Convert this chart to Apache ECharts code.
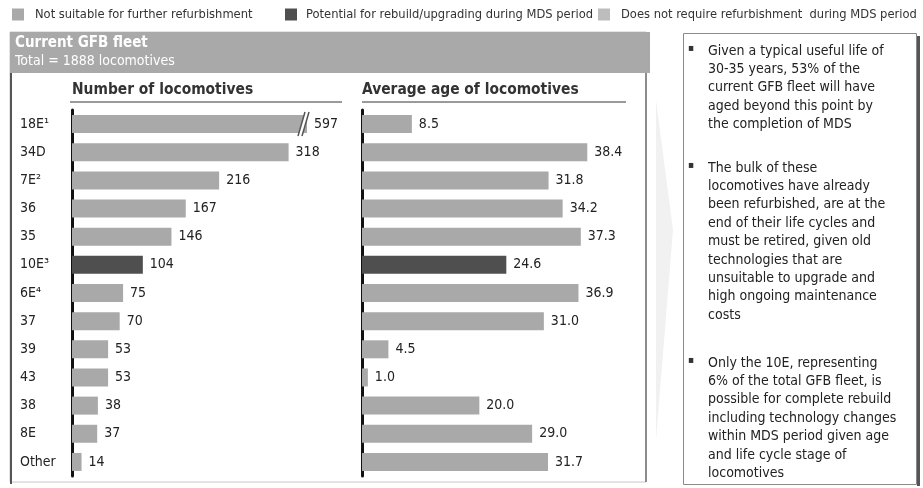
<!DOCTYPE html>
<html>
<head>
<meta charset="utf-8">
<script src="https://cdn.jsdelivr.net/npm/echarts@6/dist/echarts.min.js"></script>
<style>
  html, body { margin: 0; padding: 0; background: #ffffff; }
  #chart { width: 923px; height: 488px; }
</style>
</head>
<body>
<div id="chart"></div>
<script>
// Locomotive classes of the current GFB fleet
const categories = ['18E\u00B9', '34D', '7E\u00B2', '36', '35', '10E\u00B3', '6E\u2074', '37', '39', '43', '38', '8E', 'Other'];
// Number of locomotives per class
const fleetCount = [597, 318, 216, 167, 146, 104, 75, 70, 53, 53, 38, 37, 14];
// Average age of locomotives per class (years)
const averageAge = [8.5, 38.4, 31.8, 34.2, 37.3, 24.6, 36.9, 31.0, 4.5, 1.0, 20.0, 29.0, 31.7];
// Refurbishment status per class
const fleetStatus = ['retire', 'retire', 'retire', 'retire', 'retire', 'rebuild', 'retire', 'retire', 'retire', 'retire', 'retire', 'retire', 'retire'];
const statusOrder = ['retire', 'rebuild', 'keep'];
const statusNames = {
  retire: 'Not suitable for further refurbishment',
  rebuild: 'Potential for rebuild/upgrading during MDS period',
  keep: 'Does not require refurbishment  during MDS period'
};
const fleetTotal = fleetCount.reduce((a, b) => a + b, 0);

// Commentary next to the chart
const notes = [
  ['Given a typical useful life of', '30-35 years, 53% of the', 'current GFB fleet will have', 'aged beyond this point by', 'the completion of MDS'],
  ['The bulk of these', 'locomotives have already', 'been refurbished, are at the', 'end of their life cycles and', 'must be retired, given old', 'technologies that are', 'unsuitable to upgrade and', 'high ongoing maintenance', 'costs'],
  ['Only the 10E, representing', '6% of the total GFB fleet, is', 'possible for complete rebuild', 'including technology changes', 'within MDS period given age', 'and life cycle stage of', 'locomotives']
];

const FONT = '"DejaVu Sans Condensed", "DejaVu Sans", sans-serif';
const statusColors = { retire: '#a9a9a9', rebuild: '#4f4f4f', keep: '#bdbdbd' };
const COUNT_MAX = 345;   // count axis is cut; the 18E bar is drawn broken
const AGE_MAX = 45;

const chart = echarts.init(document.getElementById('chart'), null, { renderer: 'canvas' });

function barSeries(values, axis, status, fmt) {
  return {
    type: 'bar',
    name: statusNames[status],
    xAxisIndex: axis,
    yAxisIndex: axis,
    data: values.map((v, i) => (fleetStatus[i] === status ? v : '-')),
    barWidth: 18,
    barGap: '-100%',
    itemStyle: { color: statusColors[status] },
    label: {
      show: true,
      position: 'right',
      distance: 7,
      formatter: p => fmt(p.value),
      fontFamily: FONT,
      fontSize: 14,
      color: '#222222'
    },
    emphasis: { disabled: true },
    animation: false
  };
}

const series = [];
statusOrder.forEach(s => series.push(barSeries(fleetCount, 0, s, v => String(v))));
statusOrder.forEach(s => series.push(barSeries(averageAge, 1, s, v => Number(v).toFixed(1))));

// one legend block per status, spread across the top line
const legendX = [12, 285, 598];
const legendGap = [6, 4, 6];
const legends = statusOrder.map((s, i) => ({
  data: [statusNames[s]],
  left: legendX[i],
  top: 8,
  padding: 0,
  icon: 'rect',
  itemWidth: 12,
  itemHeight: 12,
  selectedMode: false,
  textStyle: { fontFamily: FONT, fontSize: 12.8, color: '#333333', padding: [0, 0, 0, legendGap[i]] }
}));

function catAxis(grid, showLabels) {
  return {
    type: 'category',
    gridIndex: grid,
    data: categories,
    inverse: true,
    axisLine: { show: true, lineStyle: { color: '#111111', width: 3 } },
    axisTick: { show: false },
    axisLabel: {
      show: showLabels,
      align: 'left',
      margin: 52,
      fontFamily: FONT,
      fontSize: 14,
      color: '#222222'
    },
    splitLine: { show: false }
  };
}

const textBox = [];
const noteTops = [51, 168, 363];
notes.forEach((lines, k) => {
  textBox.push({
    type: 'text', left: 688, top: noteTops[k] - 8, silent: true, z: 20,
    style: { text: '\u25AA', font: '10px ' + FONT, fill: '#333333' }
  });
  textBox.push({
    type: 'text', left: 708, top: noteTops[k] - 9.2, silent: true, z: 20,
    style: { text: lines.join('\n'), lineHeight: 18.4, font: '14px ' + FONT, fill: '#222222' }
  });
});

const decorations = [
  // fleet panel frame
  { type: 'rect', silent: true, shape: { x: 10, y: 32, width: 636, height: 450 },
    style: { fill: 'none', stroke: '#c8c8c8', lineWidth: 1 } },
  { type: 'line', silent: true, shape: { x1: 11, y1: 32, x2: 11, y2: 484 },
    style: { stroke: '#555555', lineWidth: 2 } },
  { type: 'line', silent: true, shape: { x1: 646, y1: 72, x2: 646, y2: 482 },
    style: { stroke: '#8c8c8c', lineWidth: 2 } },
  // panel header band
  { type: 'rect', silent: true, shape: { x: 10, y: 32, width: 640, height: 41 },
    style: { fill: '#a9a9a9' } },
  { type: 'text', left: 15, top: 36, silent: true,
    style: { text: 'Current GFB fleet', font: 'bold 15px ' + FONT, fill: '#ffffff' } },
  { type: 'text', left: 15, top: 54, silent: true,
    style: { text: 'Total = ' + fleetTotal + ' locomotives', font: '14px ' + FONT, fill: '#ffffff' } },
  // section titles with rules
  { type: 'text', left: 72, top: 82, silent: true,
    style: { text: 'Number of locomotives', font: 'bold 15.4px ' + FONT, fill: '#333333' } },
  { type: 'line', silent: true, shape: { x1: 70, y1: 102, x2: 342, y2: 102 },
    style: { stroke: '#9a9a9a', lineWidth: 2 } },
  { type: 'text', left: 362, top: 82, silent: true,
    style: { text: 'Average age of locomotives', font: 'bold 15.4px ' + FONT, fill: '#333333' } },
  { type: 'line', silent: true, shape: { x1: 362, y1: 102, x2: 626, y2: 102 },
    style: { stroke: '#9a9a9a', lineWidth: 2 } },
  // faint connector chevron
  { type: 'polygon', silent: true, shape: { points: [[656, 100], [673, 230], [656, 440]] },
    style: { fill: '#f1f1f1' } },
  // commentary box
  { type: 'rect', silent: true, shape: { x: 683.5, y: 33.5, width: 233, height: 451 },
    style: { fill: '#ffffff', stroke: '#8a8a8a', lineWidth: 1 } },
  { type: 'line', silent: true, shape: { x1: 918.5, y1: 36, x2: 918.5, y2: 486 },
    style: { stroke: '#555555', lineWidth: 3 } }
].concat(textBox);

chart.setOption({
  backgroundColor: '#ffffff',
  animation: false,
  textStyle: { fontFamily: FONT },
  legend: legends,
  grid: [
    { left: 72, top: 110, width: 235, height: 366, containLabel: false },
    { left: 362, top: 110, width: 264, height: 366, containLabel: false }
  ],
  xAxis: [
    { type: 'value', gridIndex: 0, min: 0, max: COUNT_MAX, show: false },
    { type: 'value', gridIndex: 1, min: 0, max: AGE_MAX, show: false }
  ],
  yAxis: [catAxis(0, true), catAxis(1, false)],
  series: series,
  graphic: decorations
});

// break marks on the truncated 18E bar, placed at the cut of the count axis
const cut = chart.convertToPixel({ gridIndex: 0 }, [COUNT_MAX, categories[0]]);
const bx = cut[0], by = cut[1];
chart.setOption({
  graphic: decorations.concat([
    { type: 'polygon', silent: true, z: 50,
      shape: { points: [[bx - 9, by + 12], [bx - 5, by + 12], [bx + 2, by - 12], [bx - 2, by - 12]] },
      style: { fill: '#ffffff' } },
    { type: 'line', silent: true, z: 51, shape: { x1: bx - 9, y1: by + 12, x2: bx - 2, y2: by - 12 },
      style: { stroke: '#555555', lineWidth: 1.5 } },
    { type: 'line', silent: true, z: 51, shape: { x1: bx - 5, y1: by + 12, x2: bx + 2, y2: by - 12 },
      style: { stroke: '#555555', lineWidth: 1.5 } }
  ])
});
</script>
</body>
</html>
